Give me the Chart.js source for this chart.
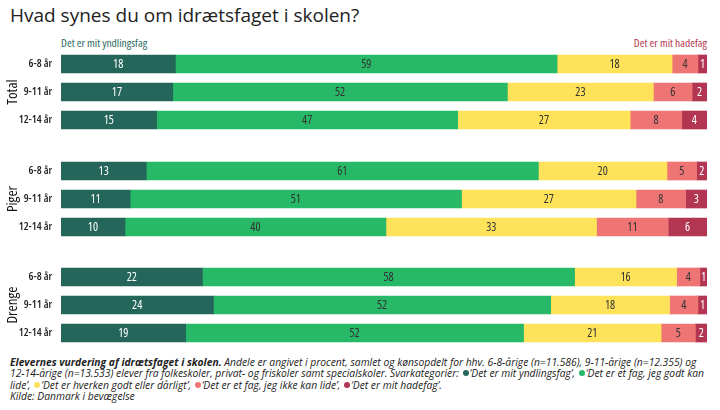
<!DOCTYPE html>
<html>
<head>
<meta charset="utf-8">
<script src="https://cdn.jsdelivr.net/npm/chart.js@4"></script>
<style>
  body { margin: 0; width: 720px; height: 410px; background: #fff; position: relative; overflow: hidden; font-family: "Open Sans", sans-serif; }
  .title { position: absolute; left: 10px; top: 2px; font-size: 19px; color: #222; }
  .top-label { position: absolute; top: 35px; font-size: 11.5px; font-weight: 500; font-stretch: condensed; }
  .chart { position: absolute; left: 0; width: 720px; height: 84px; }
  .footer { position: absolute; left: 10px; top: 357px; width: 700px; font-size: 10.3px; line-height: 11.4px; font-style: italic; color: #222; }
  .dot { display: inline-block; width: 6px; height: 6px; border-radius: 50%; margin: 0 1px 0 1px; vertical-align: 1px; }
</style>
</head>
<body>
<div class="title">Hvad synes du om idrætsfaget i skolen?</div>
<div class="top-label" style="left:61px;color:#2a6b5e">Det er mit yndlingsfag</div>
<div class="top-label" style="right:13px;color:#b5354f">Det er mit hadefag</div>
<div class="chart" style="top:50px"><canvas id="c0"></canvas></div>
<div class="chart" style="top:157px"><canvas id="c1"></canvas></div>
<div class="chart" style="top:263px"><canvas id="c2"></canvas></div>
<div class="footer"><b>Elevernes vurdering af idrætsfaget i skolen.</b> Andele er angivet i procent, samlet og kønsopdelt for hhv. 6-8-årige (n=11.586), 9-11-årige (n=12.355) og 12-14-årige (n=13.533) elever fra folkeskoler, privat- og friskoler samt specialskoler. Svarkategorier: <span class="dot" style="background:#24665a"></span>‘Det er mit yndlingsfag’, <span class="dot" style="background:#27b868"></span>‘Det er et fag, jeg godt kan lide’, <span class="dot" style="background:#fde25a"></span>‘Det er hverken godt eller dårligt’, <span class="dot" style="background:#ef7575"></span>‘Det er et fag, jeg ikke kan lide’, <span class="dot" style="background:#b23551"></span>‘Det er mit hadefag’.<br>Kilde: Danmark i bevægelse</div>
<script>
const ageGroups = ['6-8 år', '9-11 år', '12-14 år'];
const groups = ['Total', 'Piger', 'Drenge'];
const categories = [
  'Det er mit yndlingsfag',
  'Det er et fag, jeg godt kan lide',
  'Det er hverken godt eller dårligt',
  'Det er et fag, jeg ikke kan lide',
  'Det er mit hadefag'
];
const colors = ['#24665a', '#27b868', '#fde25a', '#ef7575', '#b23551'];
const labelColors = ['#fff', '#333', '#333', '#333', '#fff'];

// shares in percent per category (order: 6-8, 9-11, 12-14)
const totalValues = [
  [17.7, 17.3, 14.8],
  [59.1, 51.8, 46.6],
  [17.8, 22.6, 26.7],
  [4.0, 6.0, 8.0],
  [1.4, 2.3, 3.9]
];
const pigerValues = [
  [13.2, 10.7, 9.9],
  [60.7, 51.3, 40.4],
  [19.9, 27.0, 32.6],
  [4.6, 7.7, 11.1],
  [1.6, 3.3, 6.0]
];
const drengeValues = [
  [21.9, 23.6, 19.3],
  [57.6, 52.2, 52.3],
  [15.8, 18.4, 21.3],
  [3.6, 4.4, 5.3],
  [1.1, 1.4, 1.8]
];
const allValues = [totalValues, pigerValues, drengeValues];

const family = '"Open Sans", sans-serif';

const barLabels = {
  id: 'barLabels',
  afterDatasetsDraw(chart) {
    const ctx = chart.ctx;
    ctx.save();
    ctx.font = '500 12px ' + family;
    ctx.fontStretch = 'condensed';
    ctx.textAlign = 'center';
    ctx.textBaseline = 'middle';
    chart.data.datasets.forEach((ds, i) => {
      chart.getDatasetMeta(i).data.forEach((bar, j) => {
        const p = bar.getProps(['x', 'y', 'base'], true);
        ctx.fillStyle = labelColors[i];
        ctx.fillText(Math.round(ds.data[j]), (p.x + p.base) / 2, p.y + 0.5);
      });
    });
    ctx.restore();
  }
};

groups.forEach((g, k) => {
  new Chart(document.getElementById('c' + k), {
    type: 'bar',
    data: {
      labels: ageGroups,
      datasets: categories.map((c, i) => ({
        label: c,
        data: allValues[k][i],
        backgroundColor: colors[i],
        borderWidth: 0,
        barThickness: 18
      }))
    },
    options: {
      indexAxis: 'y',
      responsive: true,
      maintainAspectRatio: false,
      animation: false,
      layout: { padding: { right: 13, top: 0, bottom: 0, left: 0 } },
      plugins: { legend: { display: false }, tooltip: { enabled: false } },
      scales: {
        x: { stacked: true, min: 0, max: 100, display: false },
        y: {
          stacked: true,
          grid: { display: false, drawTicks: false },
          border: { display: false },
          // the stretch keyword rides along in the weight slot of the font string
          ticks: { color: '#222', padding: 9, font: { family: family, size: 11, weight: 'condensed 600' } },
          title: { display: true, text: g, color: '#111', padding: { top: 4, bottom: 0 }, font: { family: family, size: 15, weight: 'condensed 500' } },
          afterFit(scale) {
            scale.width = 61;
            scale.paddingTop = 0;
            scale.paddingBottom = 0;
          }
        }
      }
    },
    plugins: [barLabels]
  });
});
</script>
</body>
</html>
